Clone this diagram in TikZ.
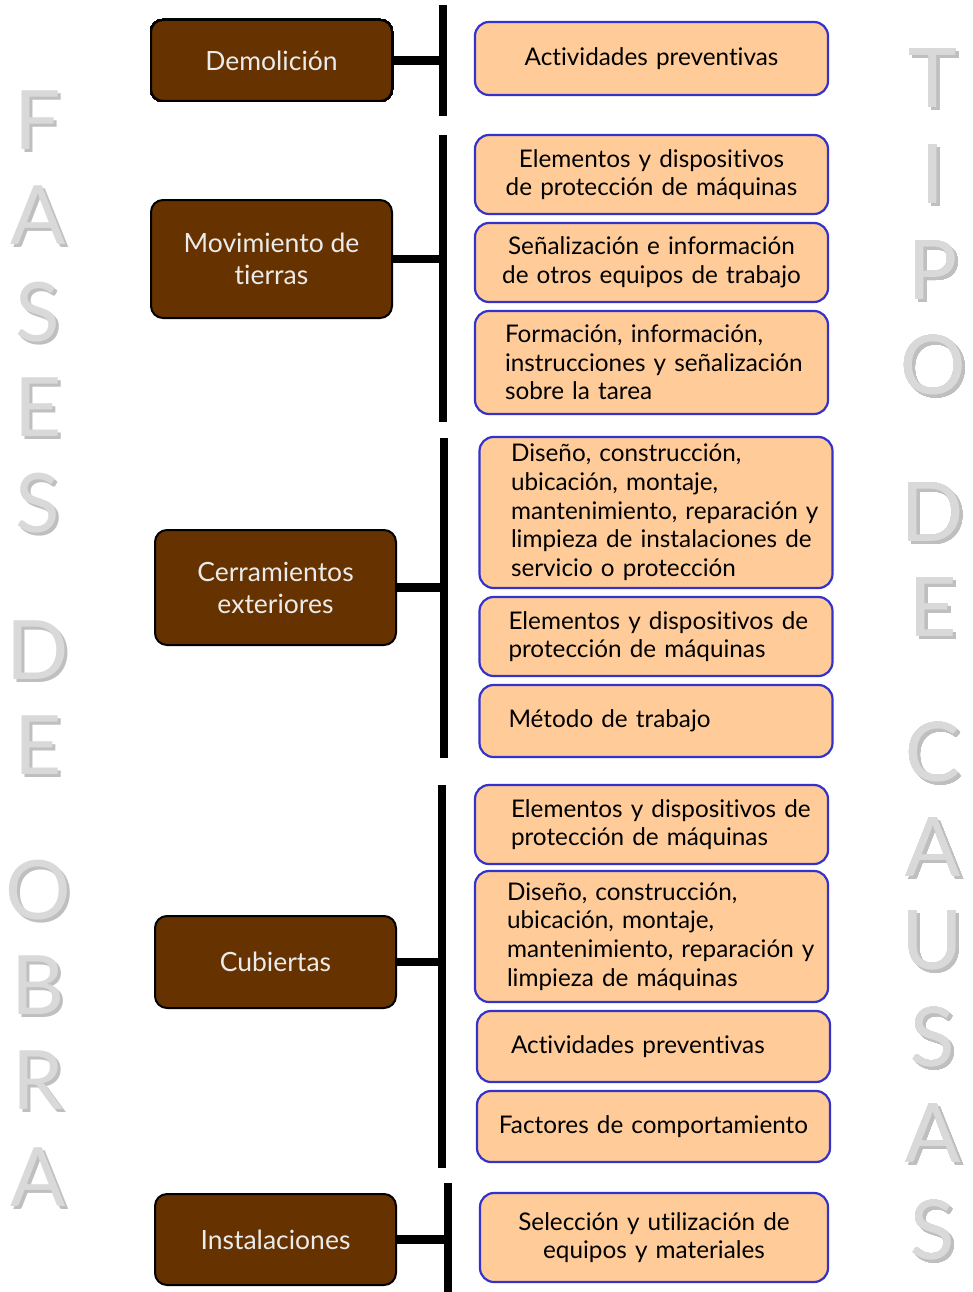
\documentclass[tikz,border=0pt]{standalone}
\usepackage{fontspec}
\setmainfont{Lato}[Ligatures={TeX,NoCommon}]
\usetikzlibrary{positioning, calc}
\definecolor{cafe}{HTML}{663300}
\definecolor{melon}{HTML}{FFCC99}
\definecolor{azul}{HTML}{3333CC}
\definecolor{letraclara}{HTML}{D9D9D9}
\definecolor{letrasombra}{HTML}{BFBFBF}
\tikzset{
  fase/.style={draw=black, line width=2pt, fill=cafe, rounded corners=12pt, minimum width=241pt,
    text=black!8, align=center, font=\fontsize{26.5}{32}\selectfont},
  causa/.style={draw=azul, line width=2.2pt, fill=melon, rounded corners=14pt, minimum width=353pt,
    inner xsep=29pt, text width=295pt, font=\fontsize{24.3}{28.7}\selectfont},
  izq/.style={causa, align=left},
  cen/.style={causa, align=center, inner xsep=8pt, text width=337pt},
  barra/.style={line width=8.5pt, black},
  letra/.style={font=\fontsize{82}{82}\selectfont, inner sep=0pt}
}
\newcommand{\letrota}[3]{%
  \node[letra, text=letrasombra] at ($(#1,#2)+(3,3)$) {#3};
  \node[letra, text=letraclara] at (#1,#2) {#3};}

\begin{document}
\begin{tikzpicture}[x=1pt, y=-1pt]
  \useasboundingbox (0,0) rectangle (973,1292);
  % letras verticales
  \foreach \l/\y in {F/120, A/215, S/312, E/407, S/503, D/650, E/745, O/890, B/985, R/1080, A/1177}
    \letrota{38}{\y}{\l}
  \foreach \l/\y in {T/78, I/174, P/270, O/365, D/512, E/607, C/752, A/847, U/940, S/1037, A/1133, S/1230}
    \letrota{933}{\y}{\l}
  % fases
  \node[fase, minimum height=81pt] (dem) at (271.5,60.5) {Demolición};
  \node[fase, minimum height=118pt] (mov) at (271.5,259) {Movimiento de\\tierras};
  \node[fase, minimum height=115pt] (cer) at (275.5,587.5) {Cerramientos\\exteriores};
  \node[fase, minimum height=92pt] (cub) at (275.5,962) {Cubiertas};
  \node[fase, minimum height=91pt] (ins) at (275.5,1239.5) {Instalaciones};
  % causas
  \node[cen, minimum height=73pt] (a1) at (651.5,58.5) {Actividades preventivas};
  \node[cen, minimum height=79pt] (b1) at (651.5,174.5) {Elementos y dispositivos\\de protección de máquinas};
  \node[cen, minimum height=79pt] (b2) at (651.5,262.5) {Señalización e información\\de otros equipos de trabajo};
  \node[izq, minimum height=103pt, inner xsep=30pt, text width=293pt] (b3) at (651.5,362.5)
    {\mbox{Formación, información,}\\\mbox{instrucciones y señalización}\\sobre la tarea};
  \node[izq, minimum height=151pt, inner xsep=31pt, text width=290pt] (c1) at (656,512.5)
    {\mbox{Diseño, construcción,}\\\mbox{ubicación, montaje,}\\\mbox{mantenimiento, reparación y}\\\mbox{limpieza de instalaciones de}\\\mbox{servicio o protección}};
  \node[izq, minimum height=79pt] (c2) at (656,636.5) {\mbox{Elementos y dispositivos de}\\\mbox{protección de máquinas}};
  \node[izq, minimum height=72pt] (c3) at (656,721) {Método de trabajo};
  \node[izq, minimum height=79pt, inner xsep=36pt, text width=281pt] (d1) at (651.5,824.5)
    {\mbox{Elementos y dispositivos de}\\\mbox{protección de máquinas}};
  \node[izq, minimum height=131pt, inner xsep=32pt, text width=289pt] (d2) at (651.5,936.5)
    {\mbox{Diseño, construcción,}\\\mbox{ubicación, montaje,}\\\mbox{mantenimiento, reparación y}\\\mbox{limpieza de máquinas}};
  \node[izq, minimum height=71pt, inner xsep=34pt, text width=285pt] (d3) at (653.5,1046.5) {Actividades preventivas};
  \node[cen, minimum height=71pt] (d4) at (653.5,1126.5) {Factores de comportamiento};
  \node[cen, minimum height=89pt, minimum width=348pt, text width=332pt] (e1) at (654,1237.5) {Selección y utilización de\\equipos y materiales};
  % llaves
  \coordinate (demA) at (443,5);    \coordinate (demB) at (443,116);
  \coordinate (movA) at (443,135);  \coordinate (movB) at (443,422);
  \coordinate (cerA) at (444,438);  \coordinate (cerB) at (444,758);
  \coordinate (cubA) at (442,785);  \coordinate (cubB) at (442,1168);
  \coordinate (insA) at (448,1183); \coordinate (insB) at (448,1292);
  \foreach \f in {dem, mov, cer, cub, ins} {
    \draw[barra] (\f A) -- (\f B);
    \draw[barra] (\f.east) -- (\f.east -| \f A);
  }
\end{tikzpicture}
\end{document}
